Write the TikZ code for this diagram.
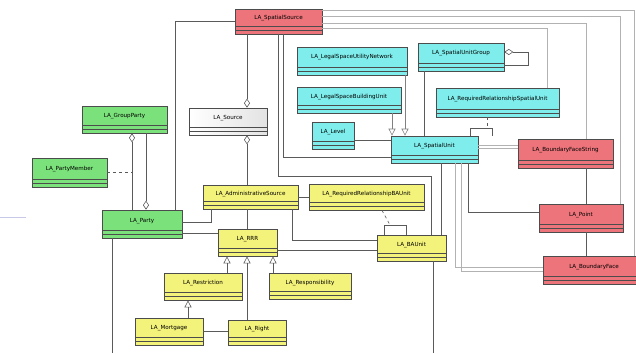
\documentclass[tikz,border=0pt]{standalone}
\usepackage{fontspec}
\setmainfont{DejaVu Sans}
\usetikzlibrary{arrows.meta}
\definecolor{redc}{HTML}{EC747A}
\definecolor{cyanc}{HTML}{7EEDEB}
\definecolor{greenc}{HTML}{7BE27B}
\definecolor{yelc}{HTML}{F3F27A}
\definecolor{linec}{HTML}{5A5A5A}
\definecolor{lavc}{HTML}{C8C8E8}
\tikzset{
  cls/.style={draw=black!70, line width=0.7pt, inner sep=0pt, text height=4pt, text depth=8pt,
    font=\fontsize{5.6}{6.5}\selectfont,
    path picture={\draw[black!70,line width=0.5pt]
      ([yshift=8pt]path picture bounding box.south west) -- ([yshift=8pt]path picture bounding box.south east)
      ([yshift=4pt]path picture bounding box.south west) -- ([yshift=4pt]path picture bounding box.south east);}},
  redbox/.style={cls, fill=redc},
  cyanbox/.style={cls, fill=cyanc},
  greenbox/.style={cls, fill=greenc},
  yelbox/.style={cls, fill=yelc},
  whitebox/.style={cls, left color=white, right color=gray!22},
  conn/.style={draw=linec, line width=0.6pt},
  gen/.style={conn, -{Triangle[open,length=7pt,width=7pt]}},
  aggS/.style={conn, {Diamond[open,length=9pt,width=6pt]}-},
  aggE/.style={conn, -{Diamond[open,length=9pt,width=6pt]}},
  wire/.style={draw=gray!60, line width=1pt},
  dep/.style={conn, dashed},
}
\begin{document}
\begin{tikzpicture}[x=1pt,y=-1pt]
\useasboundingbox (0,0) rectangle (636,353);
\fill[white] (0,0) rectangle (636,353);

% nodes
\node[redbox, minimum width=87pt, minimum height=25pt] (ss) at (278.5,21.5) {LA\_SpatialSource};
\node[cyanbox, minimum width=110pt, minimum height=28pt] (lsun) at (352,61) {LA\_LegalSpaceUtilityNetwork};
\node[cyanbox, minimum width=104pt, minimum height=26pt] (lsbu) at (349,100) {LA\_LegalSpaceBuildingUnit};
\node[cyanbox, minimum width=42pt, minimum height=27pt] (lvl) at (333,135.5) {LA\_Level};
\node[cyanbox, minimum width=86pt, minimum height=28pt] (sug) at (461,57) {LA\_SpatialUnitGroup};
\node[cyanbox, minimum width=123pt, minimum height=29pt] (rrsu) at (497.5,102.5) {LA\_RequiredRelationshipSpatialUnit};
\node[cyanbox, minimum width=87pt, minimum height=27pt] (su) at (434.5,149.5) {LA\_SpatialUnit};
\node[redbox, minimum width=95pt, minimum height=29pt] (bfs) at (565.5,153.5) {LA\_BoundaryFaceString};
\node[redbox, minimum width=84pt, minimum height=28pt] (pt) at (581,218) {LA\_Point};
\node[redbox, minimum width=102pt, minimum height=28pt] (bf) at (594,270) {LA\_BoundaryFace};
\node[greenbox, minimum width=85pt, minimum height=27pt] (gp) at (124.5,119.5) {LA\_GroupParty};
\node[greenbox, minimum width=75pt, minimum height=29pt] (pm) at (69.5,172.5) {LA\_PartyMember};
\node[greenbox, minimum width=80pt, minimum height=28pt] (party) at (142,224) {LA\_Party};
\node[whitebox, minimum width=78pt, minimum height=27pt] (src) at (228,121.5) {LA\_Source};
\node[yelbox, minimum width=95pt, minimum height=24pt] (as) at (250.5,197) {LA\_AdministrativeSource};
\node[yelbox, minimum width=115pt, minimum height=26pt] (rrba) at (366.5,197) {LA\_RequiredRelationshipBAUnit};
\node[yelbox, minimum width=59pt, minimum height=27pt] (rrr) at (247.5,242.5) {LA\_RRR};
\node[yelbox, minimum width=69pt, minimum height=26pt] (ba) at (411.5,248) {LA\_BAUnit};
\node[yelbox, minimum width=78pt, minimum height=27pt] (res) at (203,286.5) {LA\_Restriction};
\node[yelbox, minimum width=82pt, minimum height=26pt] (resp) at (310,286) {LA\_Responsibility};
\node[yelbox, minimum width=68pt, minimum height=27pt] (mort) at (169,331.5) {LA\_Mortgage};
\node[yelbox, minimum width=58pt, minimum height=25pt] (right) at (257,332.5) {LA\_Right};

\coordinate (pbot) at (112,353);
\coordinate (bbot) at (433,353);
\coordinate (pmj) at (132,172);
\coordinate (sul) at (487,128);
\coordinate (bal) at (390,225);

% stray line at left
\draw[lavc, line width=1pt] (0,217) -- (26,217);

% connectors: spatial source
\draw[conn] (ss.west) -| (175,0 |- party.north);
\draw[aggE] (247,0 |- ss.south) -- (247,0 |- src.north);
\draw[conn] (283,0 |- ss.south) |- (su.west |- 0,157);
\draw[conn] (278,0 |- ss.south) |- (431,176) -- (431,0 |- ba.north);
\draw[wire] (ss.east |- 0,11) -| (634,0 |- bf.north);
\draw[wire] (ss.east |- 0,17) -| (620,0 |- pt.north);
\draw[wire] (ss.east |- 0,24) -| (586,0 |- bfs.north);
\draw[wire] (ss.east |- 0,29) -| (547,0 |- rrsu.north);

% source / admin
\draw[aggS] (247,0 |- src.south) -- (247,0 |- as.north);
\draw[conn] (247,0 |- as.south) -- (247,0 |- rrr.north);
\draw[conn] (as.east) -- (rrba.west);
\draw[conn] (292,0 |- as.south) |- (ba.west |- 0,240);
\draw[conn] (rrr.east |- 0,250) -- (ba.west |- 0,250);

% party
\draw[conn] (party.east |- 0,222) -| (211,0 |- as.south);
\draw[conn] (party.east |- 0,233) -- (rrr.west |- 0,233);
\draw[conn] (112,0 |- party.south) -- (pbot);
\draw[aggS] (132,0 |- gp.south) -- (132,0 |- party.north);
\draw[aggE] (146,0 |- gp.south) -- (146,0 |- party.north);
\draw[dep] (pm.east |- pmj) -- (pmj);

% RRR hierarchy
\draw[gen] (227,0 |- res.north) -- (227,0 |- rrr.south);
\draw[gen] (247,0 |- right.north) -- (247,0 |- rrr.south);
\draw[gen] (273,0 |- resp.north) -- (273,0 |- rrr.south);
\draw[gen] (188,0 |- mort.north) -- (188,0 |- res.south);
\draw[conn] (mort.east) -- (right.west |- mort.east);

% BA unit
\draw[conn] (433,0 |- ba.south) -- (bbot);
\draw[conn] (384,0 |- ba.north) -- (384,225) -- (406,225) -- (406,0 |- ba.north);
\draw[dep] (382,0 |- rrba.south) -- (bal);

% spatial units
\draw[gen, draw=gray] (392,0 |- lsbu.south) -- (392,0 |- su.north);
\draw[gen, draw=gray] (405,0 |- lsun.south) -- (405,0 |- su.north);
\draw[conn] (lvl.east |- 0,140) -- (su.west |- 0,140);
\draw[conn] (424,0 |- sug.south) -- (424,0 |- su.north);
\draw[aggS] (sug.east |- 0,52) -- (528,52) -- (528,65) -- (sug.east |- 0,65);
\draw[conn] (470,0 |- su.north) -- (470,128) -- (492,128) -- (492,0 |- su.north);
\draw[dep] (487,0 |- rrsu.south) -- (sul);
\draw[wire] (su.east |- 0,145) -- (bfs.west |- 0,145);
\draw[wire] (su.east |- 0,148) -- (bfs.west |- 0,148);
\draw[conn] (441,0 |- su.south) -- (441,0 |- ba.north);
\draw[wire] (455,0 |- su.south) |- (bf.west |- 0,267);
\draw[wire] (461,0 |- su.south) |- (bf.west |- 0,271);
\draw[conn] (468,0 |- su.south) |- (pt.west |- 0,212);
\draw[conn] (586,0 |- bfs.south) -- (586,0 |- pt.north);
\draw[conn] (586,0 |- pt.south) -- (586,0 |- bf.north);
\end{tikzpicture}
\end{document}
